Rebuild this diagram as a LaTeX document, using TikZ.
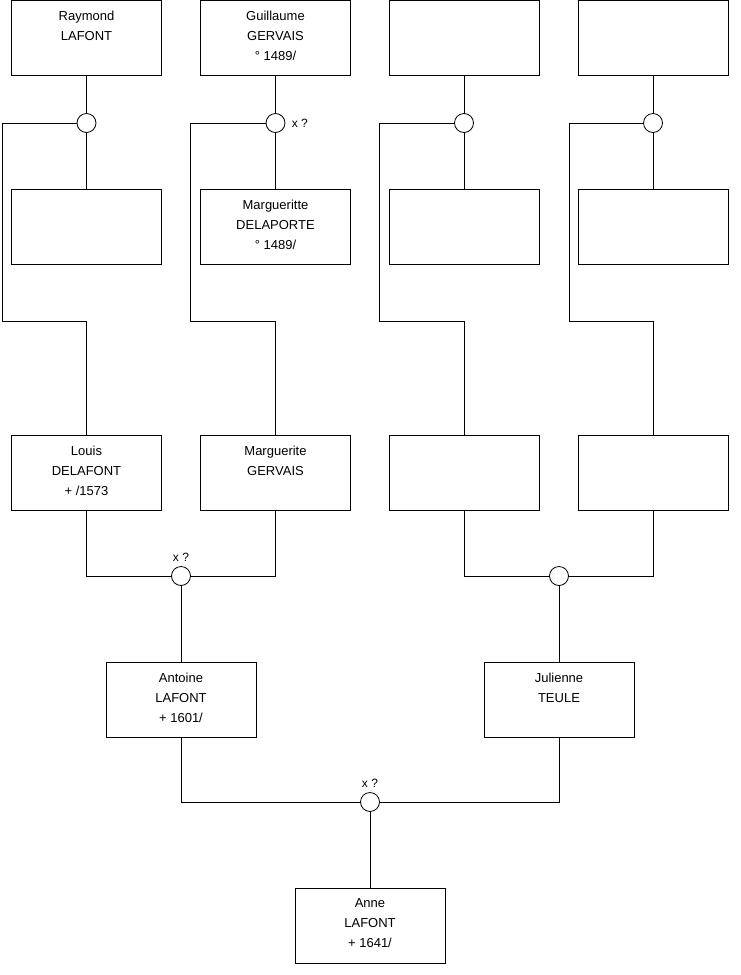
\documentclass[tikz,border=0pt]{standalone}
\usepackage{fontspec}
\setmainfont{Liberation Sans}
\usetikzlibrary{positioning}
\tikzset{
    person/.style={draw, fill=white, minimum width=150pt, minimum height=75pt, inner sep=0},
    union/.style={draw, circle, fill=white, minimum size=19pt, inner sep=0},
    txt/.style={font=\fontsize{13}{20}\selectfont, align=center, inner sep=0},
    mark txt/.style={font=\fontsize{12}{14}\selectfont, inner sep=0}
}
\begin{document}
\begin{tikzpicture}[x=1pt, y=-1pt, line width=0.8pt]
    \useasboundingbox (0,0) rectangle (740,975);
    % grandparents, their children
    \foreach \i/\x/\lx in {1/86.5/2, 2/275.5/190, 3/464/379, 4/653/569} {
        \node[person] (f\i) at (\x,38) {};
        \node[person] (m\i) at (\x,227) {};
        \node[person] (c\i) at (\x,472.5) {};
        \node[union] (u\i) at (\x,123) {};
        \coordinate (k\i) at (\lx,321);
        \draw (f\i) -- (u\i) -- (m\i);
        \draw (u\i.west) -| (k\i) -| (c\i.north);
    }
    \node[txt, below=10.7pt of f1.north] (tf1) {Raymond\\LAFONT};
    \node[txt, below=10.7pt of f2.north] (tf2) {Guillaume\\GERVAIS\\° 1489/};
    \node[txt, below=10.7pt of m2.north] (tm2) {Margueritte\\DELAPORTE\\° 1489/};
    \node[mark txt, right=6pt of u2] (xu2) {x ?};
    \node[txt, below=10.7pt of c1.north] (tc1) {Louis\\DELAFONT\\+ /1573};
    \node[txt, below=10.7pt of c2.north] (tc2) {Marguerite\\GERVAIS};

    % parents
    \node[person] (a1) at (181,699.5) {};
    \node[person] (j1) at (559,699.5) {};
    \node[union] (v1) at (181,576) {};
    \node[union] (v2) at (559,576) {};
    \draw (c1.south) |- (v1.west);
    \draw (c2.south) |- (v1.east);
    \draw (c3.south) |- (v2.west);
    \draw (c4.south) |- (v2.east);
    \draw (v1) -- (a1);
    \draw (v2) -- (j1);
    \node[mark txt, above=4pt of v1] (xv1) {x ?};
    \node[txt, below=10.7pt of a1.north] (ta1) {Antoine\\LAFONT\\+ 1601/};
    \node[txt, below=10.7pt of j1.north] (tj1) {Julienne\\TEULE};

    % Anne
    \node[person] (an) at (370,925.5) {};
    \node[union] (w) at (370,802) {};
    \draw (a1.south) |- (w.west);
    \draw (j1.south) |- (w.east);
    \draw (w) -- (an);
    \node[mark txt, above=4pt of w] (xw) {x ?};
    \node[txt, below=10.7pt of an.north] (tan) {Anne\\LAFONT\\+ 1641/};
\end{tikzpicture}
\end{document}
